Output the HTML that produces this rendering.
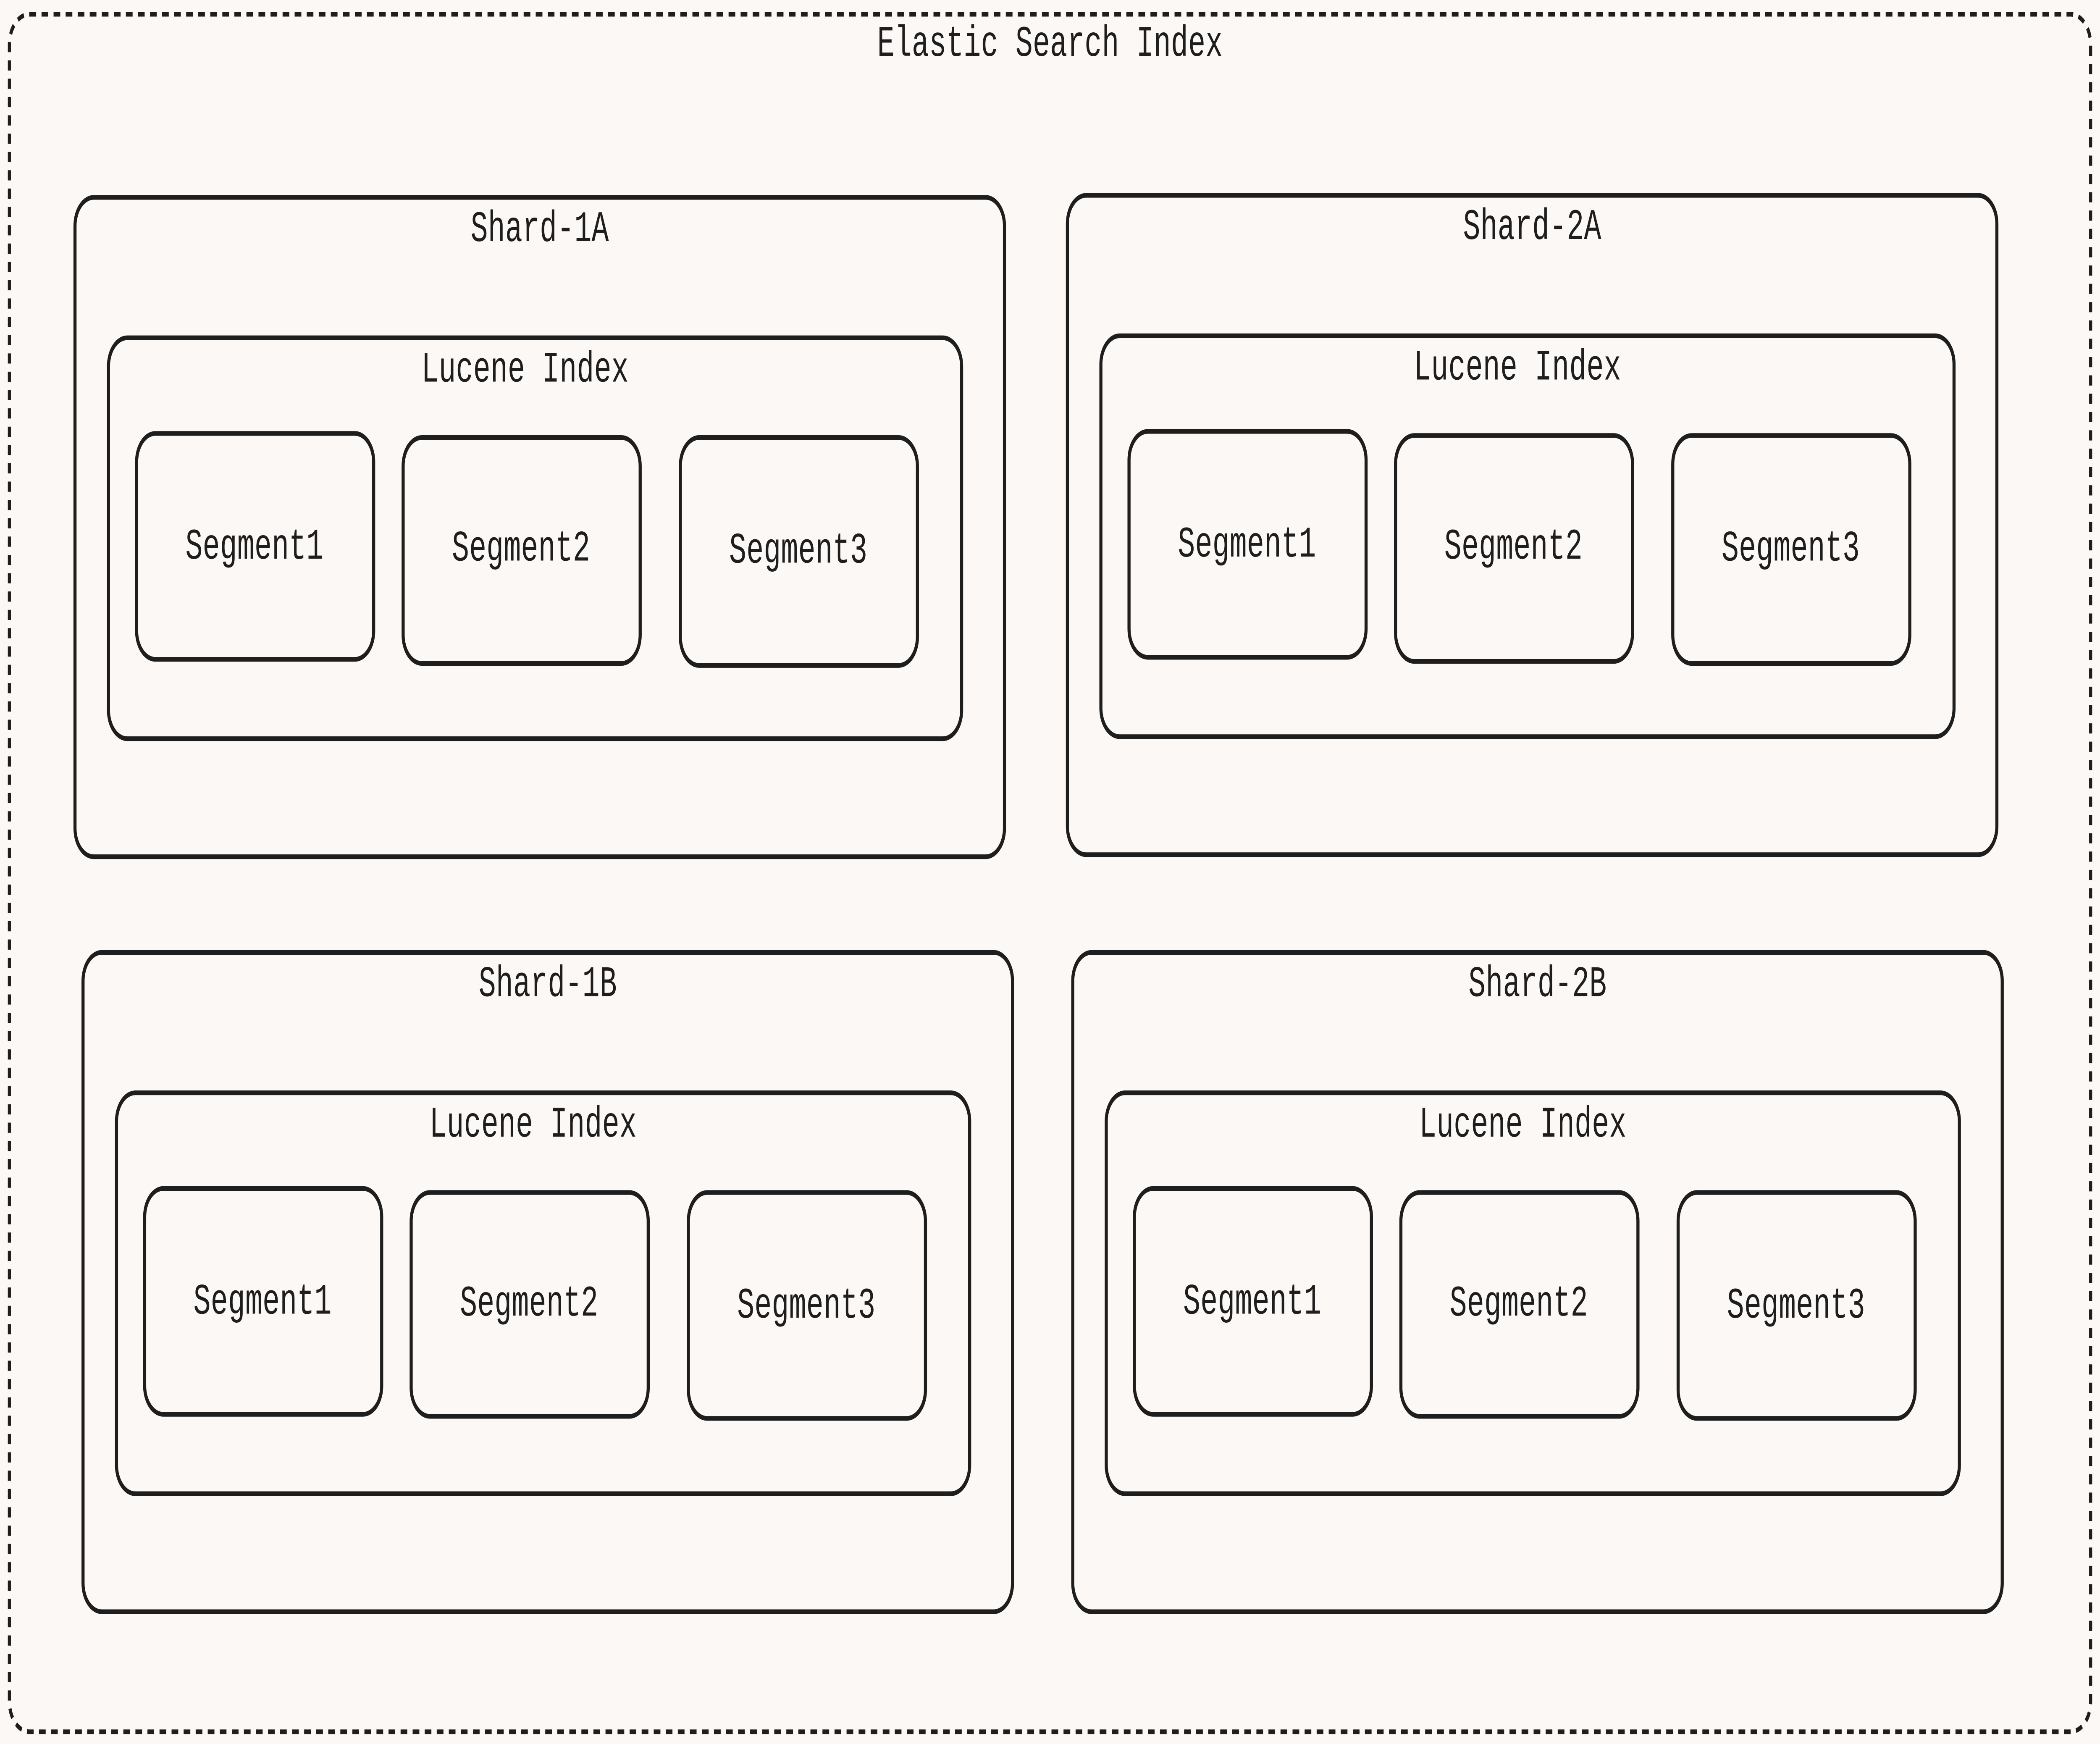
<!DOCTYPE html>
<html><head><meta charset="utf-8"><style>
html,body{margin:0;padding:0;background:#fcf8f5;width:100%;height:100%;overflow:hidden;}
svg{display:block;width:100vw;height:100vh;}
text{font-family:"Liberation Mono","DejaVu Sans Mono",monospace;font-size:21.5px;fill:#1e1e1e;text-anchor:middle;dominant-baseline:central;}
rect{fill:#fcf8f5;stroke:#1e1e1e;stroke-width:2.3;}
</style></head><body>
<svg viewBox="0 0 1568 857" preserveAspectRatio="none" xmlns="http://www.w3.org/2000/svg">
<rect x="0" y="0" width="1568" height="857" style="stroke:none"/>
<rect x="7" y="7" width="1554" height="844" rx="15" style="stroke-dasharray:5 4"/>
<text x="784" y="22">Elastic Search Index</text>

<rect x="56" y="97" width="694" height="324" rx="14"/>
<text x="403" y="113">Shard-1A</text>
<rect x="81" y="166" width="637" height="197" rx="14"/>
<text x="392" y="182">Lucene Index</text>
<rect x="102" y="213" width="177" height="111" rx="14"/><text x="190" y="269">Segment1</text>
<rect x="301" y="215" width="177" height="111" rx="14"/><text x="389" y="270">Segment2</text>
<rect x="508" y="215" width="177" height="112" rx="14"/><text x="596" y="271">Segment3</text>

<rect x="797" y="96" width="694" height="324" rx="14"/>
<text x="1144" y="112">Shard-2A</text>
<rect x="822" y="165" width="637" height="197" rx="14"/>
<text x="1133" y="181">Lucene Index</text>
<rect x="843" y="212" width="177" height="111" rx="14"/><text x="931" y="268">Segment1</text>
<rect x="1042" y="214" width="177" height="111" rx="14"/><text x="1130" y="269">Segment2</text>
<rect x="1249" y="214" width="177" height="112" rx="14"/><text x="1337" y="270">Segment3</text>

<rect x="62" y="468" width="694" height="324" rx="14"/>
<text x="409" y="484">Shard-1B</text>
<rect x="87" y="537" width="637" height="197" rx="14"/>
<text x="398" y="553">Lucene Index</text>
<rect x="108" y="584" width="177" height="111" rx="14"/><text x="196" y="640">Segment1</text>
<rect x="307" y="586" width="177" height="110" rx="14"/><text x="395" y="641">Segment2</text>
<rect x="514" y="586" width="177" height="111" rx="14"/><text x="602" y="642">Segment3</text>

<rect x="801" y="468" width="694" height="324" rx="14"/>
<text x="1148" y="484">Shard-2B</text>
<rect x="826" y="537" width="637" height="197" rx="14"/>
<text x="1137" y="553">Lucene Index</text>
<rect x="847" y="584" width="177" height="111" rx="14"/><text x="935" y="640">Segment1</text>
<rect x="1046" y="586" width="177" height="110" rx="14"/><text x="1134" y="641">Segment2</text>
<rect x="1253" y="586" width="177" height="111" rx="14"/><text x="1341" y="642">Segment3</text>
</svg>
</body></html>
